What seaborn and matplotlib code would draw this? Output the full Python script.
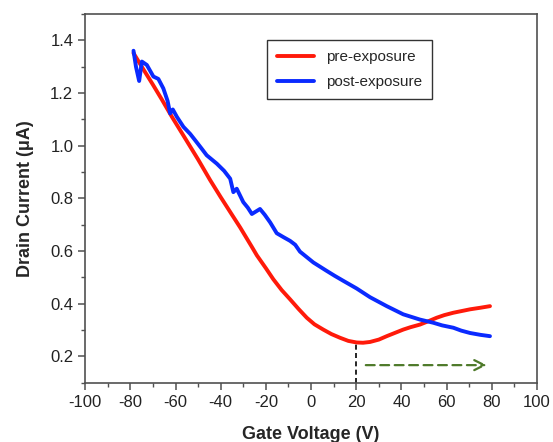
import matplotlib
matplotlib.use("Agg")
import matplotlib.pyplot as plt
from matplotlib.ticker import MultipleLocator
import seaborn as sns
import pandas as pd

# gate voltage (V) / drain current (uA)
pre_v = [-78.6, -74.2, -70.0, -66.0, -61.6, -56.0, -50.0, -44.7, -40.0, -35.0, -31.4,
         -26.2, -24.0, -20.0, -16.7, -13.0, -9.3, -5.5, -1.9, 1.5, 5.4, 9.0, 12.8,
         16.5, 20.2, 23.0, 26.1, 30.0, 33.5, 37.0, 40.8, 44.0, 48.2, 52.0, 55.6,
         59.0, 63.0, 67.0, 70.4, 75.0, 79.2]
pre_i = [1.352, 1.290, 1.232, 1.175, 1.110, 1.032, 0.948, 0.870, 0.805, 0.738, 0.690,
         0.616, 0.584, 0.535, 0.493, 0.452, 0.417, 0.380, 0.347, 0.322, 0.302, 0.285, 0.271,
         0.259, 0.253, 0.252, 0.255, 0.264, 0.277, 0.289, 0.302, 0.311, 0.321, 0.334, 0.347,
         0.357, 0.366, 0.373, 0.379, 0.385, 0.391]

post_v = [-78.6, -77.5, -76.1, -74.9, -72.7, -69.8, -67.6, -65.4, -63.5, -62.4, -61.2,
          -59.4, -56.5, -53.5, -51.3, -48.5, -46.2, -41.7, -38.5, -35.8, -34.4, -32.9,
          -30.0, -28.0, -26.2, -22.6, -20.5, -18.1, -15.2, -12.0, -9.3, -7.0, -4.9,
          1.0, 6.9, 10.5, 14.3, 20.2, 26.1, 33.5, 40.8, 48.2, 54.1, 58.0,
          63.0, 66.5, 70.4, 75.0, 79.2]
post_i = [1.361, 1.300, 1.246, 1.320, 1.307, 1.263, 1.254, 1.218, 1.170, 1.123, 1.138,
          1.110, 1.072, 1.045, 1.021, 0.990, 0.964, 0.932, 0.905, 0.875, 0.824, 0.837,
          0.786, 0.765, 0.741, 0.760, 0.738, 0.709, 0.668, 0.652, 0.639, 0.624, 0.598,
          0.557, 0.525, 0.506, 0.487, 0.458, 0.425, 0.391, 0.360, 0.340, 0.328, 0.318,
          0.309, 0.298, 0.289, 0.282, 0.277]

series_names = ["pre-exposure", "post-exposure"]
series_colors = ["#ff1a0a", "#0a2aff"]

df = pd.concat([
    pd.DataFrame({"Gate Voltage": pre_v, "Drain Current": pre_i, "series": series_names[0]}),
    pd.DataFrame({"Gate Voltage": post_v, "Drain Current": post_i, "series": series_names[1]}),
], ignore_index=True)

sns.set_style("ticks")
plt.rcParams['font.family'] = ['Liberation Sans', 'DejaVu Sans']
plt.rcParams['axes.unicode_minus'] = False

fig, ax = plt.subplots(figsize=(5.53, 4.42), dpi=100)
fig.subplots_adjust(left=0.154, right=0.971, bottom=0.134, top=0.968)

sns.lineplot(data=df, x="Gate Voltage", y="Drain Current", hue="series",
             palette=series_colors, hue_order=series_names, sort=False,
             estimator=None, linewidth=2.8, ax=ax)

# minimum of pre-exposure curve and shift arrow
ax.plot([20, 20], [0.1, 0.25], color="black", linestyle=(0, (3, 2)), linewidth=1.2)
ax.annotate("", xy=(79, 0.167), xytext=(23, 0.167),
            arrowprops=dict(arrowstyle="->", color="#4e7a2a", linestyle=(0, (4, 2.5)),
                            linewidth=1.6, mutation_scale=18))

ax.set_xlim(-100, 100)
ax.set_ylim(0.1, 1.5)
ax.xaxis.set_major_locator(MultipleLocator(20))
ax.xaxis.set_minor_locator(MultipleLocator(10))
ax.yaxis.set_minor_locator(MultipleLocator(0.1))
ax.set_yticks([0.2, 0.4, 0.6, 0.8, 1.0, 1.2, 1.4])
ax.set_yticklabels(["0.2", "0.4", "0.6", "0.8", "1.0", "1.2", "1.4"])

for sp in ax.spines.values():
    sp.set_color("#505050")
    sp.set_linewidth(1.2)
ax.tick_params(which="major", direction="out", length=5, width=1.1, color="#505050",
               labelsize=12, labelcolor="#222222")
ax.tick_params(which="minor", direction="out", length=3, width=1.0, color="#505050")

ax.set_xlabel("Gate Voltage (V)", fontsize=13, fontweight="bold", labelpad=12)
ax.set_ylabel("Drain Current (\u03bcA)", fontsize=13, fontweight="bold", labelpad=12)

leg = ax.legend(loc="upper left", bbox_to_anchor=(0.403, 0.93), borderaxespad=0,
                fancybox=False, fontsize=11, handlelength=2.4, borderpad=0.65,
                labelspacing=0.75, title=None)
leg.get_frame().set_edgecolor("black")
leg.get_frame().set_linewidth(1.0)

fig.savefig("out.png", dpi=100)
